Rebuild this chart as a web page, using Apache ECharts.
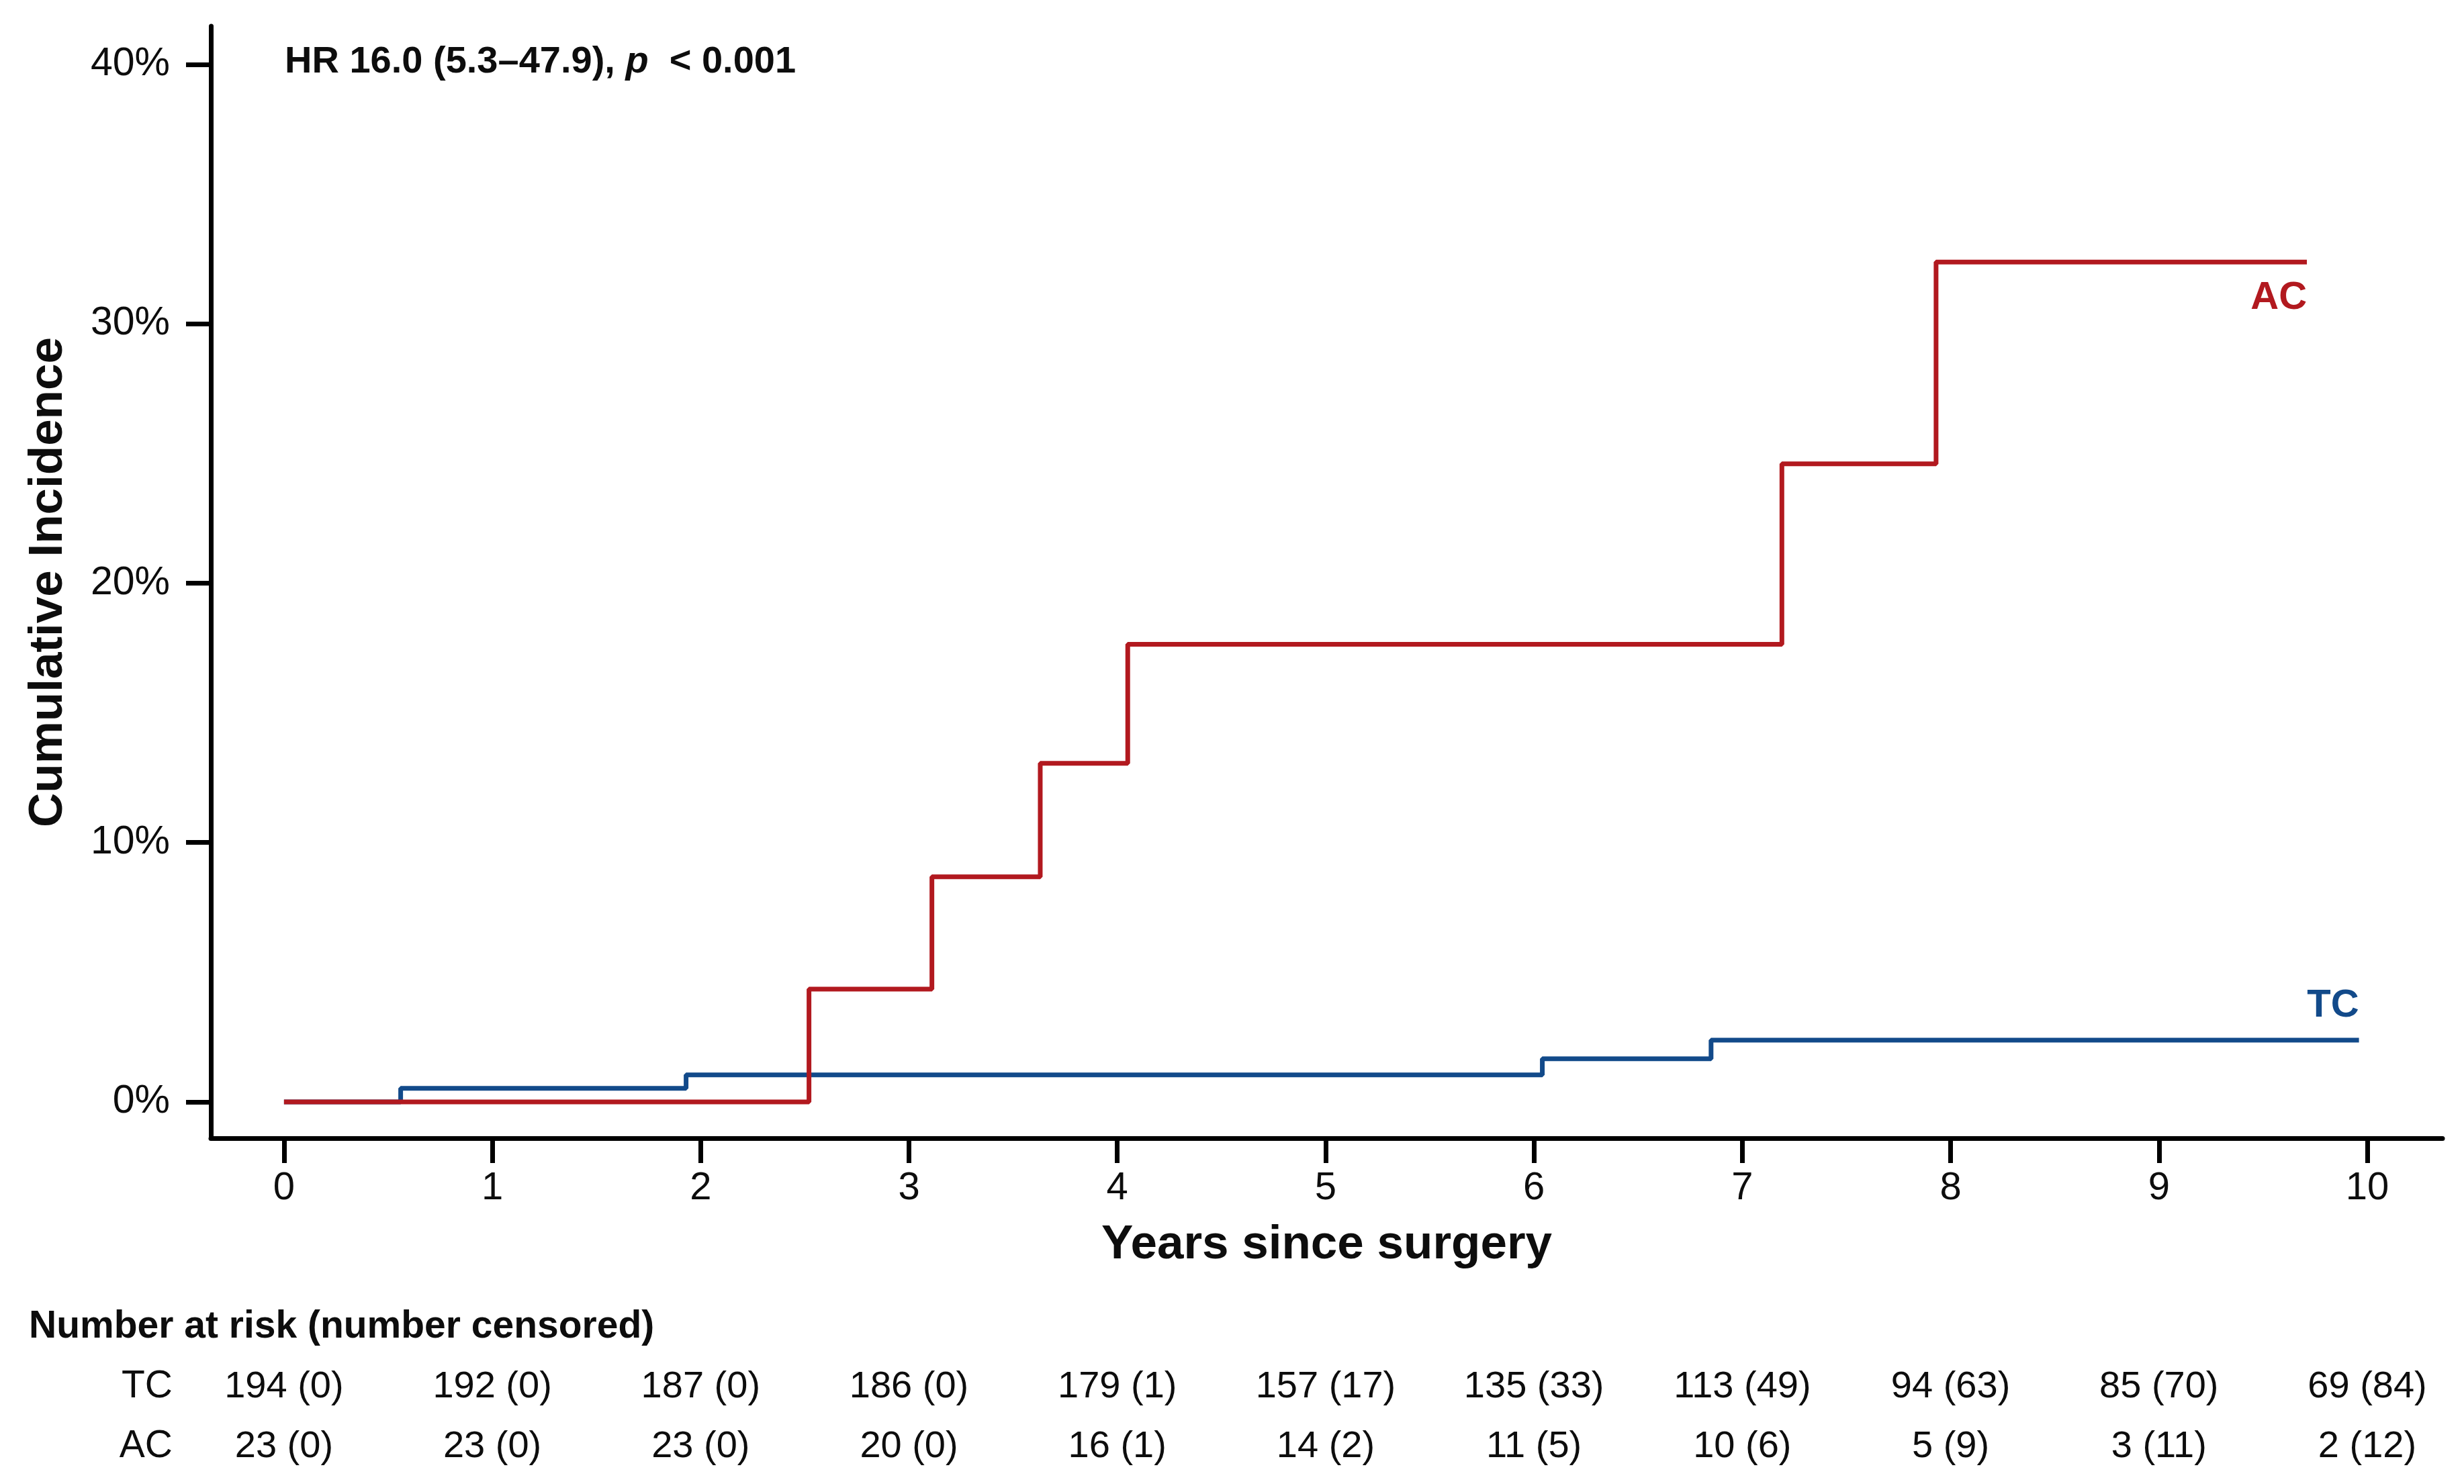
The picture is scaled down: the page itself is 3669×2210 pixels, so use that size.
<!DOCTYPE html>
<html><head><meta charset="utf-8">
<script src="https://cdn.jsdelivr.net/npm/echarts@6/dist/echarts.min.js"></script>
<style>html,body{margin:0;padding:0;background:#fff}#c{width:3669px;height:2210px}</style>
</head><body><div id="c"></div>
<script>
// ---- data ----
const xTicks = [0, 1, 2, 3, 4, 5, 6, 7, 8, 9, 10];
const yTicks = [0, 10, 20, 30, 40];
const tcTimes  = [0, 0.56, 1.93, 6.04, 6.85, 9.96];
const tcValues = [0, 0.52, 1.04, 1.66, 2.38, 2.38];
const acTimes  = [0, 2.52, 3.11, 3.63, 4.05, 7.19, 7.93, 9.71];
const acValues = [0, 4.35, 8.68, 13.05, 17.64, 24.6, 32.38, 32.38];
const groups = ['TC', 'AC'];
const tcAtRisk   = [194, 192, 187, 186, 179, 157, 135, 113, 94, 85, 69];
const tcCensored = [0, 0, 0, 0, 1, 17, 33, 49, 63, 70, 84];
const acAtRisk   = [23, 23, 23, 20, 16, 14, 11, 10, 5, 3, 2];
const acCensored = [0, 0, 0, 0, 1, 2, 5, 6, 9, 11, 12];
const hrText = 'HR 16.0 (5.3–47.9), ';
const pText = '< 0.001';

// ---- styles ----
const FONT = 'Liberation Sans, Arial, sans-serif';
const INK = '#0d0d0d';
const RED = '#B2191F';
const BLUE = '#124A8A';
const X_MIN = -0.351, X_MAX = 10.361;
const Y_MIN = -1.40, Y_MAX = 41.47;

const tcData = tcTimes.map((t, i) => [t, tcValues[i]]);
const acData = acTimes.map((t, i) => [t, acValues[i]]);
const riskRows = [];
xTicks.forEach((t, i) => {
  riskRows.push([t, 'TC', tcAtRisk[i] + ' (' + tcCensored[i] + ')']);
  riskRows.push([t, 'AC', acAtRisk[i] + ' (' + acCensored[i] + ')']);
});

const chart = echarts.init(document.getElementById('c'), null, {renderer: 'canvas'});
chart.setOption({
  backgroundColor: '#ffffff',
  animation: false,
  textStyle: {fontFamily: FONT},
  title: [
    {
      text: '{b|' + hrText + '}{i|p}{b|  ' + pText + '}',
      left: 424, top: 65, padding: 0,
      textStyle: {
        rich: {
          b: {fontFamily: FONT, fontSize: 56, fontWeight: 'bold', color: INK},
          i: {fontFamily: FONT, fontSize: 56, fontWeight: 'bold', fontStyle: 'italic', color: INK}
        }
      }
    },
    {
      text: 'Number at risk (number censored)',
      left: 43, top: 1948, padding: 0,
      textStyle: {fontFamily: FONT, fontSize: 57, fontWeight: 'bold', color: INK}
    }
  ],
  grid: [
    {left: 314, right: 32, top: 39, bottom: 515, containLabel: false},
    {left: 314, right: 32, top: 2021, bottom: 11, containLabel: false}
  ],
  xAxis: [
    {
      gridIndex: 0, type: 'value', min: X_MIN, max: X_MAX,
      name: 'Years since surgery', nameLocation: 'middle', nameGap: 124,
      nameTextStyle: {fontFamily: FONT, fontSize: 71, fontWeight: 'bold', color: INK},
      axisLine: {show: true, onZero: false, lineStyle: {color: '#000', width: 7}},
      axisTick: {show: true, inside: false, length: 37, lineStyle: {color: '#000', width: 7}, customValues: xTicks},
      axisLabel: {show: true, margin: 46, fontFamily: FONT, fontSize: 58, color: INK, customValues: xTicks},
      splitLine: {show: false}
    },
    {
      gridIndex: 1, type: 'value', min: X_MIN, max: X_MAX, show: false
    }
  ],
  yAxis: [
    {
      gridIndex: 0, type: 'value', min: Y_MIN, max: Y_MAX,
      name: 'Cumulative Incidence', nameLocation: 'middle', nameGap: 206, nameRotate: 90,
      nameTextStyle: {fontFamily: FONT, fontSize: 71, fontWeight: 'bold', color: INK},
      axisLine: {show: true, onZero: false, lineStyle: {color: '#000', width: 7}},
      axisTick: {show: true, inside: false, length: 37, lineStyle: {color: '#000', width: 7}, customValues: yTicks},
      axisLabel: {show: true, margin: 61, fontFamily: FONT, fontSize: 59, color: INK, customValues: yTicks, formatter: '{value}%'},
      splitLine: {show: false}
    },
    {
      gridIndex: 1, type: 'category', data: groups, inverse: true,
      axisLine: {show: false}, axisTick: {show: false}, splitLine: {show: false},
      axisLabel: {show: true, margin: 57, fontFamily: FONT, fontSize: 57, color: INK}
    }
  ],
  series: [
    {
      name: 'TC', type: 'line', step: 'end', xAxisIndex: 0, yAxisIndex: 0,
      data: tcData, showSymbol: false, symbol: 'none',
      lineStyle: {color: BLUE, width: 7}, z: 3
    },
    {
      name: 'AC', type: 'line', step: 'end', xAxisIndex: 0, yAxisIndex: 0,
      data: acData, showSymbol: false, symbol: 'none',
      lineStyle: {color: RED, width: 7}, z: 4
    },
    {
      type: 'scatter', xAxisIndex: 0, yAxisIndex: 0, symbolSize: 1, silent: true,
      itemStyle: {color: 'rgba(0,0,0,0)', opacity: 1},
      data: [
        {value: [acTimes[acTimes.length - 1], acValues[acValues.length - 1]], name: 'AC',
         label: {color: RED, offset: [0, 54]}},
        {value: [tcTimes[tcTimes.length - 1], tcValues[tcValues.length - 1]], name: 'TC',
         label: {color: BLUE, offset: [0, -51]}}
      ],
      label: {show: true, position: 'inside', align: 'right', verticalAlign: 'middle',
              formatter: p => p.name, fontFamily: FONT, fontSize: 58, fontWeight: 'bold',
              textBorderWidth: 0}
    },
    {
      type: 'scatter', xAxisIndex: 1, yAxisIndex: 1, symbolSize: 1, silent: true,
      itemStyle: {color: 'rgba(0,0,0,0)', opacity: 1},
      data: riskRows,
      label: {show: true, position: 'inside', formatter: p => p.value[2],
              fontFamily: FONT, fontSize: 56, color: INK, textBorderWidth: 0}
    }
  ]
});
</script>
</body></html>
